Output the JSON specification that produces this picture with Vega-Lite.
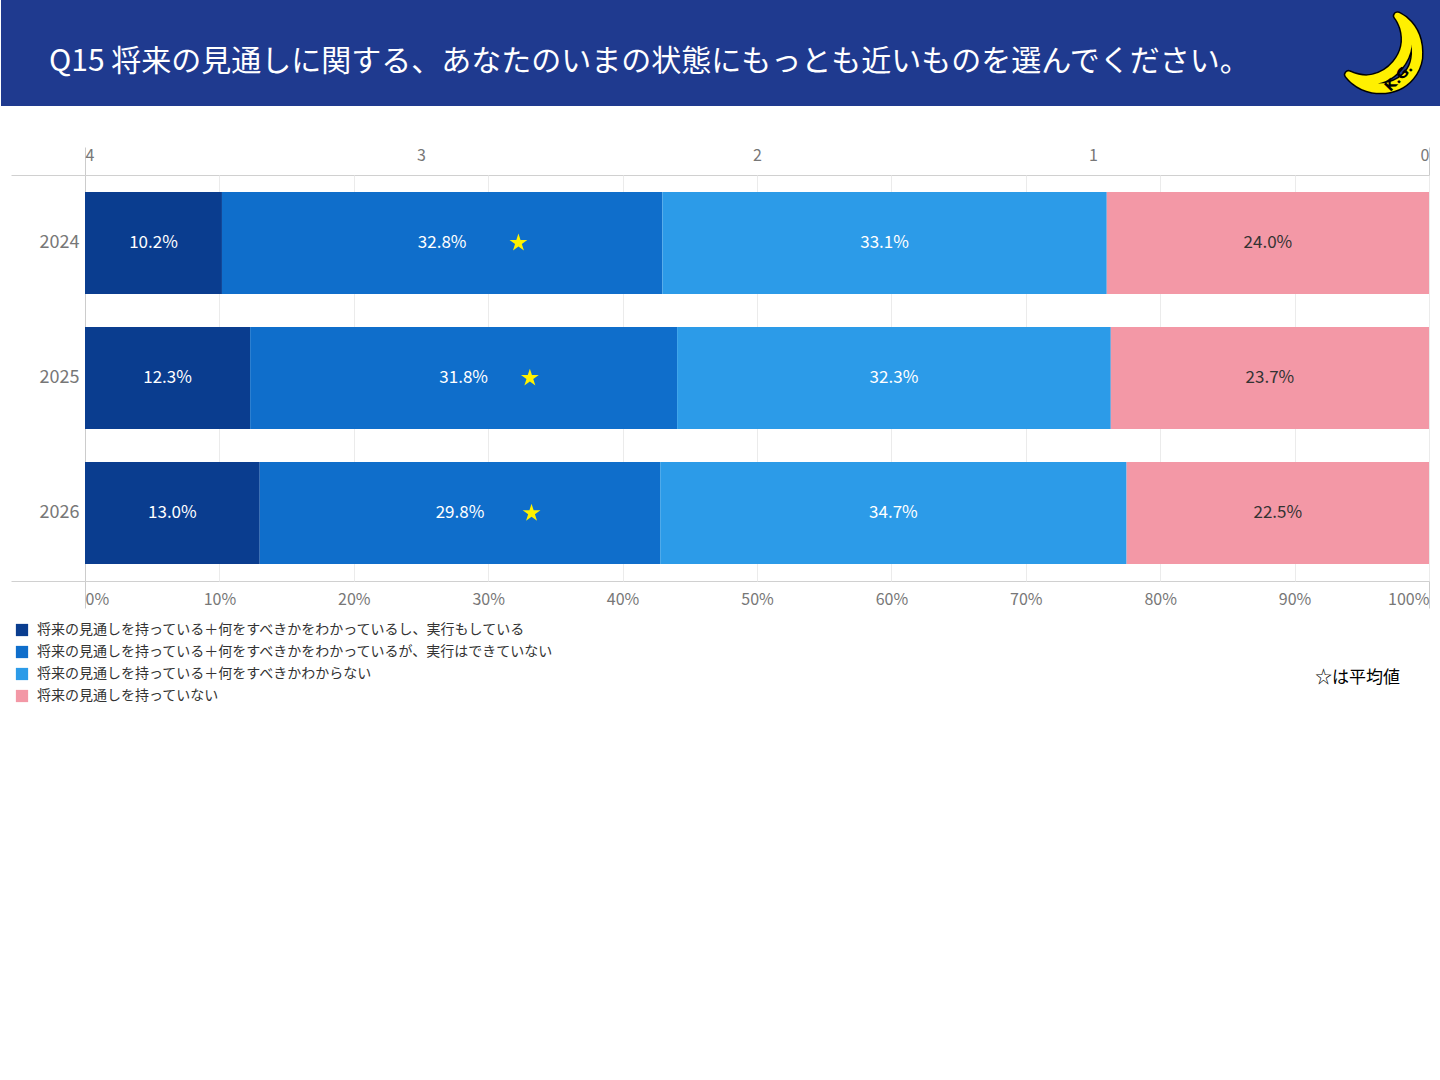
{
  "$schema": "https://vega.github.io/schema/vega-lite/v6.json",
  "padding": 0,
  "background": "white",
  "spacing": 40,
  "config": {"font": "Noto Sans CJK JP", "view": {"stroke": null}},
  "datasets": {
    "header": [{"title": "Q15 将来の見通しに関する、あなたのいまの状態にもっとも近いものを選んでください。"}],
    "bars": [
      {"year": "2024", "order": 1, "cat": "将来の見通しを持っている＋何をすべきかをわかっているし、実行もしている", "pct": 0.102},
      {"year": "2024", "order": 2, "cat": "将来の見通しを持っている＋何をすべきかをわかっているが、実行はできていない", "pct": 0.328},
      {"year": "2024", "order": 3, "cat": "将来の見通しを持っている＋何をすべきかわからない", "pct": 0.331},
      {"year": "2024", "order": 4, "cat": "将来の見通しを持っていない", "pct": 0.240},
      {"year": "2025", "order": 1, "cat": "将来の見通しを持っている＋何をすべきかをわかっているし、実行もしている", "pct": 0.123},
      {"year": "2025", "order": 2, "cat": "将来の見通しを持っている＋何をすべきかをわかっているが、実行はできていない", "pct": 0.318},
      {"year": "2025", "order": 3, "cat": "将来の見通しを持っている＋何をすべきかわからない", "pct": 0.323},
      {"year": "2025", "order": 4, "cat": "将来の見通しを持っていない", "pct": 0.237},
      {"year": "2026", "order": 1, "cat": "将来の見通しを持っている＋何をすべきかをわかっているし、実行もしている", "pct": 0.130},
      {"year": "2026", "order": 2, "cat": "将来の見通しを持っている＋何をすべきかをわかっているが、実行はできていない", "pct": 0.298},
      {"year": "2026", "order": 3, "cat": "将来の見通しを持っている＋何をすべきかわからない", "pct": 0.347},
      {"year": "2026", "order": 4, "cat": "将来の見通しを持っていない", "pct": 0.225}
    ],
    "avg": [
      {"year": "2024", "score": 2.710},
      {"year": "2025", "score": 2.676},
      {"year": "2026", "score": 2.671}
    ],
    "note": [{"note": "☆は平均値"}]
  },
  "vconcat": [
    {
      "width": 1440,
      "height": 106,
      "data": {"name": "header"},
      "view": {"stroke": null},
      "layer": [
        {"mark": {"type": "rect", "color": "#1F3A8F"}, "encoding": {}},
        {
          "mark": {"type": "text", "align": "left", "baseline": "middle", "dx": -672, "dy": 9, "fontSize": 30, "color": "white"},
          "encoding": {"text": {"field": "title"}}
        },
        {
          "mark": {"type": "text", "text": "☽", "font": "DejaVu Sans", "fontSize": 108, "color": "black", "stroke": "black", "strokeWidth": 9, "strokeJoin": "round", "angle": 40, "align": "center", "baseline": "middle", "dx": 504, "dy": -418, "clip": true},
          "encoding": {}
        },
        {
          "mark": {"type": "text", "text": "☽", "font": "DejaVu Sans", "fontSize": 108, "color": "#FFF000", "stroke": "#FFF000", "strokeWidth": 6, "strokeJoin": "round", "angle": 40, "align": "center", "baseline": "middle", "dx": 504, "dy": -418, "clip": true},
          "encoding": {}
        },
        {
          "mark": {"type": "text", "text": "K.G.", "font": "DejaVu Sans", "fontSize": 14, "fontWeight": "bold", "color": "black", "angle": -45, "align": "center", "baseline": "middle", "dx": 462, "dy": 497, "clip": true},
          "encoding": {}
        }
      ]
    },
    {
      "width": 1428,
      "height": 406,
      "view": {"stroke": "#D0D0D0", "strokeDash": [0, 10, 3242, 416]},
      "layer": [
        {
          "data": {"name": "bars"},
          "mark": {"type": "bar"},
          "encoding": {
            "y": {
              "field": "year", "type": "nominal", "sort": ["2024", "2025", "2026"],
              "scale": {"paddingInner": 0.245, "paddingOuter": 0.125},
              "axis": {"title": null, "offset": -84, "ticks": false, "domainColor": "#CCCCCC", "labelFontSize": 18, "labelColor": "#777777", "labelPadding": 6}
            },
            "x": {
              "field": "pct", "type": "quantitative", "stack": "normalize",
              "scale": {"domain": [0, 1], "range": [84, 1428]},
              "axis": {
                "orient": "bottom", "title": null, "values": [0, 0.1, 0.2, 0.3, 0.4, 0.5, 0.6, 0.7, 0.8, 0.9, 1],
                "format": ".0%", "labelFlush": true, "grid": true, "gridColor": "#EBEBEB", "domain": false,
                "tickSize": 27, "tickColor": {"condition": {"test": "datum.value == 0 || datum.value == 1", "value": "#CCCCCC"}, "value": "transparent"},
                "labelPadding": -17, "labelFontSize": 16, "labelColor": "#777777"
              }
            },
            "color": {
              "field": "cat", "type": "nominal",
              "scale": {
                "domain": ["将来の見通しを持っている＋何をすべきかをわかっているし、実行もしている", "将来の見通しを持っている＋何をすべきかをわかっているが、実行はできていない", "将来の見通しを持っている＋何をすべきかわからない", "将来の見通しを持っていない"],
                "range": ["#0A3D8F", "#0F6ECB", "#2C9BE8", "#F398A6"]
              },
              "legend": {"orient": "none", "legendX": 14, "legendY": 623, "title": null, "symbolType": "square", "symbolSize": 150, "symbolStrokeWidth": 0, "labelFontSize": 14, "labelColor": "#333333", "rowPadding": 8, "labelOffset": 8, "labelLimit": 800}
            },
            "order": {"field": "order"}
          }
        },
        {
          "data": {"name": "bars"},
          "transform": [
            {"stack": "pct", "groupby": ["year"], "sort": [{"field": "order"}], "offset": "normalize", "as": ["x0", "x1"]},
            {"calculate": "(datum.x0 + datum.x1) / 2", "as": "mid"}
          ],
          "mark": {"type": "text", "fontSize": 17, "baseline": "middle"},
          "encoding": {
            "y": {"field": "year", "type": "nominal", "sort": ["2024", "2025", "2026"]},
            "x": {"field": "mid", "type": "quantitative", "scale": {"domain": [0, 1], "range": [84, 1428]}, "axis": null},
            "text": {"field": "pct", "type": "quantitative", "format": ".1%"},
            "color": {"condition": {"test": "datum.order == 4", "value": "#333333"}, "value": "white"}
          }
        },
        {
          "data": {"name": "avg"},
          "mark": {"type": "point", "filled": true, "opacity": 1, "color": "#FFF200", "size": 350, "shape": "M0,-1L0.2245,-0.309L0.951,-0.309L0.363,0.118L0.588,0.809L0,0.382L-0.588,0.809L-0.363,0.118L-0.951,-0.309L-0.2245,-0.309Z"},
          "encoding": {
            "y": {"field": "year", "type": "nominal", "sort": ["2024", "2025", "2026"]},
            "x": {
              "field": "score", "type": "quantitative",
              "scale": {"domain": [0, 4], "reverse": true, "range": [84, 1428]},
              "axis": {
                "orient": "top", "title": null, "values": [0, 1, 2, 3, 4], "format": "d", "labelFlush": true, "grid": false, "domain": false,
                "tickSize": 28, "tickColor": {"condition": {"test": "datum.value == 0 || datum.value == 4", "value": "#CCCCCC"}, "value": "transparent"},
                "labelPadding": -16, "labelFontSize": 16, "labelColor": "#777777"
              }
            }
          }
        },
        {
          "data": {"name": "note"},
          "mark": {"type": "text", "align": "left", "baseline": "middle", "fontSize": 17, "color": "black", "dx": 600, "dy": 300},
          "encoding": {"text": {"field": "note"}}
        }
      ],
      "resolve": {"scale": {"x": "independent"}}
    }
  ]
}
